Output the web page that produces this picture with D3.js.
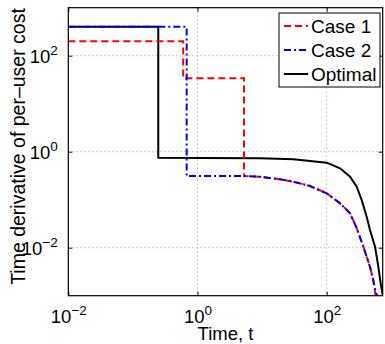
<!DOCTYPE html>
<html>
<head>
<meta charset="utf-8">
<script src="https://cdn.jsdelivr.net/npm/d3@7"></script>
<style>
  body { margin: 0; background: #fff; }
  text { font-family: "Liberation Sans", Arial, sans-serif; fill: #000; }
</style>
</head>
<body>
<div id="chart"></div>
<script>
// series (time t, derivative value)
const seriesNames = ["Case 1", "Case 2", "Optimal"];
const case1T = [0.01, 0.6, 0.6, 5.25, 5.25, 9.3, 18.9, 30.4, 55, 100, 161, 230, 291, 369, 468, 526, 573];
const case1V = [200, 200, 34, 34, 0.31, 0.30, 0.266, 0.237, 0.193, 0.136, 0.084, 0.052, 0.0257, 0.0105, 0.0040, 0.0021, 0.00098];
const case2T = [0.01, 0.68, 0.68, 5.8, 9.3, 18.9, 30.4, 55, 100, 161, 230, 291, 369, 468, 526, 580, 638];
const case2V = [400, 400, 0.31, 0.31, 0.30, 0.266, 0.237, 0.193, 0.136, 0.084, 0.052, 0.0257, 0.0105, 0.0040, 0.0021, 0.00112, 0.0009];
const optT = [0.01, 0.247, 0.247, 1.09, 9.3, 30.4, 100, 161, 230, 291, 348, 416, 468, 560, 630, 685, 736];
const optV = [400, 400, 0.75, 0.74, 0.729, 0.695, 0.59, 0.451, 0.301, 0.187, 0.0986, 0.0442, 0.0234, 0.0105, 0.0040, 0.0018, 0.00103];

// ticks
const xTicks = [1e-2, 1e0, 1e2];
const xTickExp = ["\u22122", "0", "2"];
const yTicks = [1e-2, 1e0, 1e2];
const yTickExp = ["\u22122", "0", "2"];

const W = 385, H = 344;
const margin = { top: 7.7, right: 2.3, bottom: 48.3, left: 68.3 };
const width = W - margin.left - margin.right;
const height = H - margin.top - margin.bottom;

const svg = d3.select("#chart").append("svg")
    .attr("width", W)
    .attr("height", H);

const g = svg.append("g")
    .attr("transform", `translate(${margin.left},${margin.top})`);

const x = d3.scaleLog().domain([0.01, 736]).range([0, width]);
const y = d3.scaleLog().domain([1e-3, 1e3]).range([height, 0]);

//grid
g.append("g").selectAll("line")
    .data(xTicks.slice(1))
    .enter().append("line")
    .attr("x1", d => x(d)).attr("x2", d => x(d))
    .attr("y1", 0).attr("y2", height)
    .attr("stroke", "#9a9a9a")
    .attr("stroke-width", 1)
    .attr("stroke-dasharray", "1,3");
g.append("g").selectAll("line")
    .data(yTicks)
    .enter().append("line")
    .attr("x1", 0).attr("x2", width)
    .attr("y1", d => y(d)).attr("y2", d => y(d))
    .attr("stroke", "#9a9a9a")
    .attr("stroke-width", 1)
    .attr("stroke-dasharray", "1,3");

//lines
g.append("clipPath").attr("id", "clip")
    .append("rect").attr("width", width).attr("height", height);

const line = d3.line()
    .x(d => x(d[0]))
    .y(d => y(d[1]));

const series = [
    { name: seriesNames[0], pts: d3.zip(case1T, case1V), color: "#ff0000", dash: "7,4" },
    { name: seriesNames[1], pts: d3.zip(case2T, case2V), color: "#0000ff", dash: "7,3,2,3" },
    { name: seriesNames[2], pts: d3.zip(optT, optV), color: "#000000", dash: null }
];

const plot = g.append("g").attr("clip-path", "url(#clip)");
// draw optimal first, then case 1, then case 2 on top
[series[2], series[0], series[1]].forEach(s => {
    plot.append("path")
        .datum(s.pts)
        .attr("fill", "none")
        .attr("stroke", s.color)
        .attr("stroke-width", 2)
        .attr("stroke-dasharray", s.dash)
        .attr("d", line);
});

//axes
function supLabels(sel, exps, anchor) {
    sel.selectAll(".tick text").each(function (d, i) {
        const t = d3.select(this);
        t.text(null).attr("text-anchor", anchor);
        t.append("tspan").text("10");
        t.append("tspan").attr("dy", -8).attr("font-size", 13.5).text(exps[i]);
    });
}

const xAxis = g.append("g")
    .attr("transform", `translate(0,${height})`)
    .call(d3.axisBottom(x).tickValues(xTicks).tickSizeInner(-4).tickSizeOuter(0).tickPadding(0));
xAxis.select(".domain").remove();
xAxis.selectAll(".tick text").attr("y", 27).attr("dy", null).attr("font-size", 18.5);
xAxis.call(a => supLabels(a, xTickExp, "middle"));

const yAxis = g.append("g")
    .call(d3.axisLeft(y).tickValues(yTicks).tickSizeInner(-4).tickSizeOuter(0).tickPadding(0));
yAxis.select(".domain").remove();
yAxis.selectAll(".tick text").attr("x", -10.5).attr("dy", null).attr("y", 7).attr("font-size", 18.5);
yAxis.call(a => supLabels(a, yTickExp, "end"));

g.append("g")
    .call(d3.axisTop(x).tickValues(xTicks).tickSizeInner(-4).tickSizeOuter(0).tickFormat(""))
    .select(".domain").remove();
g.append("g")
    .attr("transform", `translate(${width},0)`)
    .call(d3.axisRight(y).tickValues(yTicks).tickSizeInner(-4).tickSizeOuter(0).tickFormat(""))
    .select(".domain").remove();

g.selectAll(".tick line").attr("stroke", "#000");

g.append("rect")
    .attr("width", width).attr("height", height)
    .attr("fill", "none").attr("stroke", "#000").attr("stroke-width", 1.2);

//axis labels
svg.append("text")
    .attr("x", margin.left + width / 2)
    .attr("y", 340)
    .attr("text-anchor", "middle")
    .attr("font-size", 18.5)
    .text("Time, t");

svg.append("text")
    .attr("transform", `translate(24.5,${146.5}) rotate(-90)`)
    .attr("text-anchor", "middle")
    .attr("font-size", 19.5)
    .text("Time derivative of per\u2013user cost");

//legend
const legend = svg.append("g").attr("transform", "translate(279,13)");
legend.append("rect")
    .attr("width", 101).attr("height", 74)
    .attr("fill", "#fff").attr("stroke", "#000").attr("stroke-width", 1);
series.forEach((s, i) => {
    const ly = 13 + i * 24;
    legend.append("line")
        .attr("x1", 5).attr("x2", 29)
        .attr("y1", ly).attr("y2", ly)
        .attr("stroke", s.color)
        .attr("stroke-width", 2)
        .attr("stroke-dasharray", s.dash);
    legend.append("text")
        .attr("x", 32).attr("y", ly)
        .attr("dy", "0.35em")
        .attr("font-size", 19)
        .text(s.name);
});
</script>
</body>
</html>
